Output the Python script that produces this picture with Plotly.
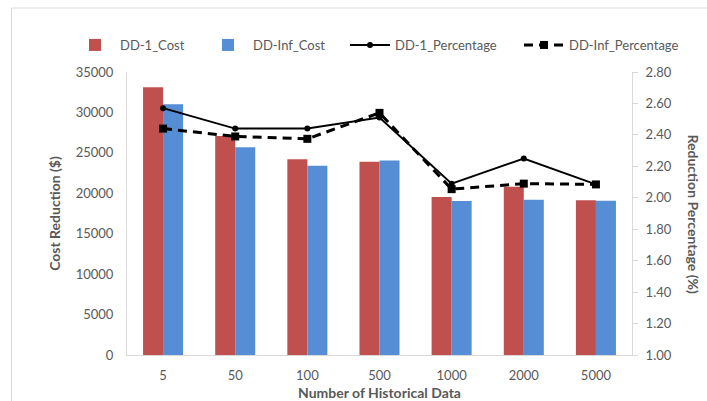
import plotly.graph_objects as go

categories = ["5", "50", "100", "500", "1000", "2000", "5000"]
dd1_cost = [33100, 27100, 24200, 23900, 19550, 20800, 19150]
ddinf_cost = [31000, 25700, 23400, 24050, 19050, 19200, 19080]
dd1_pct = [2.57, 2.44, 2.44, 2.51, 2.09, 2.25, 2.085]
ddinf_pct = [2.44, 2.39, 2.375, 2.54, 2.055, 2.09, 2.085]

FONT = "Lato"
GRAY = "#595959"
AXIS = "#D9D9D9"

fig = go.Figure()
fig.add_trace(go.Bar(x=categories, y=dd1_cost, name="DD-1_Cost", legend="legend",
                     marker=dict(color="#C0504D", line=dict(width=0))))
fig.add_trace(go.Bar(x=categories, y=ddinf_cost, name="DD-Inf_Cost", legend="legend2",
                     marker=dict(color="#558ED5", line=dict(width=0))))
fig.add_trace(go.Scatter(x=categories, y=dd1_pct, name="DD-1_Percentage", yaxis="y2",
                         legend="legend3", mode="lines+markers",
                         line=dict(color="black", width=2),
                         marker=dict(symbol="circle", size=6, color="black")))
fig.add_trace(go.Scatter(x=categories, y=ddinf_pct, name="DD-Inf_Percentage", yaxis="y2",
                         legend="legend4", mode="lines+markers",
                         line=dict(color="black", width=3, dash="9px,6px"),
                         marker=dict(symbol="square", size=8, color="black")))

W, H = 707, 401
L, R, T, B = 127, 75, 72, 46
pw, ph = W - L - R, H - T - B

def px2x(p):
    return (p - L) / pw

def py2y(p):
    return (H - B - p) / ph

def leg(text_x):
    return dict(orientation="h", x=px2x(text_x - 47), xanchor="left",
                y=py2y(45), yanchor="middle", bgcolor="rgba(0,0,0,0)",
                font=dict(family=FONT, size=13, color=GRAY), itemwidth=40)

fig.update_layout(
    width=W, height=H,
    margin=dict(l=L, r=R, t=T, b=B, autoexpand=False),
    paper_bgcolor="white", plot_bgcolor="white",
    font=dict(family=FONT, size=13, color=GRAY),
    barmode="group", bargap=0.445, bargroupgap=0,
    showlegend=True,
    legend=leg(117), legend2=leg(250), legend3=leg(392), legend4=leg(566),
    xaxis=dict(showline=True, linecolor=AXIS, linewidth=1, ticks="", showgrid=False,
               tickfont=dict(size=13, color=GRAY), ticklabelstandoff=8,
               title=dict(text="<b>Number of Historical Data</b>", standoff=6,
                          font=dict(size=14, color=GRAY))),
    yaxis=dict(range=[0, 35000], dtick=5000, showline=True, linecolor=AXIS, linewidth=1,
               ticks="", showgrid=False, zeroline=False, tickformat="d",
               tickfont=dict(size=13, color=GRAY), ticklabelstandoff=10,
               title=dict(text="<b>Cost Reduction ($)</b>", standoff=11,
                          font=dict(size=14, color=GRAY))),
    yaxis2=dict(range=[1.0, 2.8], dtick=0.2, tickformat=".2f", overlaying="y", side="right",
                showline=True, linecolor=AXIS, linewidth=1, ticks="outside", ticklen=5,
                tickcolor=AXIS, showgrid=False, zeroline=False,
                tickfont=dict(size=13, color=GRAY), ticklabelstandoff=5),
    shapes=[dict(type="rect", xref="paper", yref="paper",
                 x0=px2x(11.5), x1=px2x(W + 20), y0=py2y(H + 20), y1=py2y(8),
                 line=dict(color="#D9D9D9", width=1), fillcolor="rgba(0,0,0,0)", layer="above")],
    annotations=[dict(text="<b>Reduction Percentage (%)</b>", xref="paper", yref="paper",
                      x=px2x(693), y=0.5, textangle=90, showarrow=False,
                      font=dict(family=FONT, size=14, color=GRAY),
                      xanchor="center", yanchor="middle")],
)

fig.write_html("out.html", config={"displayModeBar": False},
               post_script="document.body.style.margin='0px';")
